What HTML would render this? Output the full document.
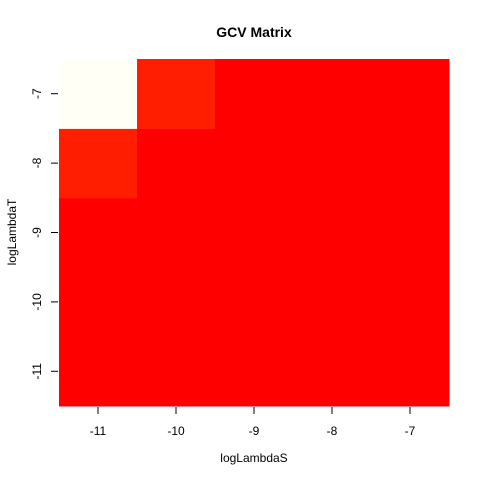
<!DOCTYPE html>
<html><head><meta charset="utf-8"><style>body{margin:0;background:#fff}svg text{font-family:"Liberation Sans",sans-serif}</style></head>
<body>
<svg id="c" width="480" height="480">
<text x="254" y="37" text-anchor="middle" font-size="14" font-weight="bold">GCV Matrix</text>
<text x="254" y="462" text-anchor="middle" font-size="12">logLambdaS</text>
<text transform="translate(16,232) rotate(-90)" text-anchor="middle" font-size="12">logLambdaT</text>
<g id="cells"></g><g id="axes"></g>
</svg>
<script>
const xCats=[-11,-10,-9,-8,-7];
const yCats=[-11,-10,-9,-8,-7];
// z[yIndex][xIndex], y from -11 to -7
const zVals=[
[0,0,0,0,0],
[0,0,0,0,0],
[0,0,0,0,0],
[0.09,0,0,0,0],
[1,0.09,0,0,0]
];
const L=59,R=449,T=59,B=406;
const cw=(R-L)/xCats.length, ch=(B-T)/yCats.length;
const xPos=v=>L+(v-xCats[0])*cw+cw/2;
const yPos=v=>B-(v-yCats[0])*ch-ch/2;
function col(v){if(v>=0.9)return '#FFFFF5';return 'rgb(255,'+Math.round(v*345)+',0)';}
const ns='http://www.w3.org/2000/svg';
const cells=document.getElementById('cells'),axes=document.getElementById('axes');
yCats.forEach((yv,i)=>xCats.forEach((xv,j)=>{
 const r=document.createElementNS(ns,'rect');
 r.setAttribute('x',xPos(xv)-cw/2);r.setAttribute('y',yPos(yv)-ch/2);
 r.setAttribute('width',cw+0.5);r.setAttribute('height',ch+0.5);
 r.setAttribute('fill',col(zVals[i][j]));
 
 
 cells.appendChild(r);
}));
function line(x1,y1,x2,y2){const l=document.createElementNS(ns,'line');l.setAttribute('x1',x1);l.setAttribute('y1',y1);l.setAttribute('x2',x2);l.setAttribute('y2',y2);l.setAttribute('stroke','#000');axes.appendChild(l);return l;}
xCats.forEach(v=>{const x=xPos(v);
 const t=line(x,407,x,414);
 
 
 const s=document.createElementNS(ns,'text');s.setAttribute('x',x);s.setAttribute('y',435);s.setAttribute('text-anchor','middle');s.setAttribute('font-size','12');s.textContent=v;
 
 
 axes.appendChild(s);});
yCats.forEach(v=>{const y=yPos(v);
 const t=line(51,y,58,y);
 
 
 const s=document.createElementNS(ns,'text');s.setAttribute('transform','translate(41,'+y+') rotate(-90)');s.setAttribute('text-anchor','middle');s.setAttribute('font-size','12');s.textContent=v;
 
 
 axes.appendChild(s);});
</script>
</body></html>
